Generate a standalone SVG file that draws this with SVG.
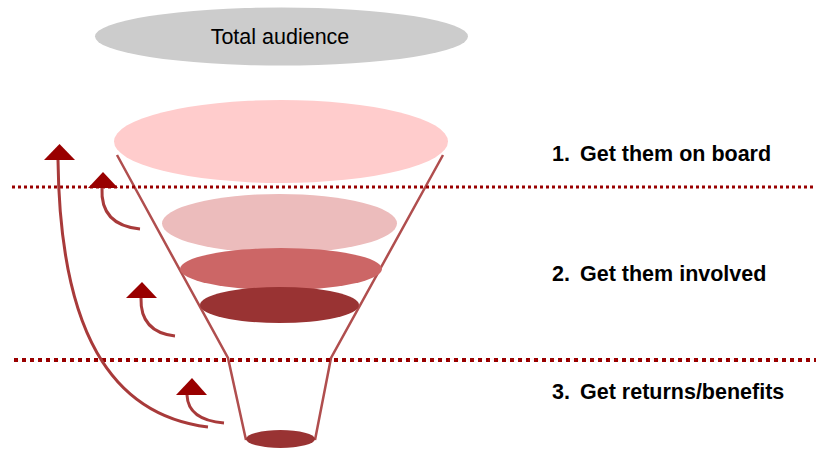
<svg xmlns="http://www.w3.org/2000/svg" width="816" height="449" viewBox="0 0 816 449">
<style>
.lbl{font-family:"Liberation Sans",Arial,sans-serif;font-size:21.5px;font-weight:bold;fill:#000}
.funnel{fill:none;stroke:#b04e4e;stroke-width:2.5}
.curve{fill:none;stroke:#a83a3a;stroke-width:3;stroke-linecap:butt}
.head{fill:#990000}
</style>
<rect width="816" height="449" fill="#fff"/>
<g id="total-audience">
<ellipse cx="281.5" cy="36.5" rx="186.5" ry="29" fill="#cccccc"/>
<text x="280" y="44" text-anchor="middle" font-family="Liberation Sans, Arial, sans-serif" font-size="21.5" fill="#000">Total audience</text>
</g>
<g id="funnel-sides">
<polyline class="funnel" points="117,155 228,358 246,440"/>
<polyline class="funnel" points="443,155 331,358 315,440"/>
</g>
<g id="layer1"><ellipse cx="281" cy="141.5" rx="167" ry="41.5" fill="#ffcccc"/></g>
<g id="layer2"><ellipse cx="279.5" cy="223.5" rx="117.5" ry="29.5" fill="#ecbcbc"/></g>
<g id="layer3"><ellipse cx="281" cy="269" rx="101" ry="21" fill="#cc6666"/></g>
<g id="layer4"><ellipse cx="279.5" cy="305" rx="79.5" ry="18" fill="#993333"/></g>
<g id="bottom"><ellipse cx="280.5" cy="439" rx="34.5" ry="9" fill="#993333"/></g>
<g id="dividers">
<line x1="12" y1="187" x2="816" y2="187" stroke="#990000" stroke-width="3" stroke-dasharray="3 3"/>
<line x1="14" y1="360" x2="816" y2="360" stroke="#990000" stroke-width="4" stroke-dasharray="4 4"/>
</g>
<g id="connectors">
<path class="curve" d="M58,160 C60,330 110,415 208,427"/>
<polygon class="head" points="59.5,144 44,160 75,160"/>
<path class="curve" d="M102,188 Q100,225 140,229"/>
<polygon class="head" points="103,172 88,188 118,188"/>
<path class="curve" d="M141,298 Q140,332 175,336"/>
<polygon class="head" points="142,282 126,298 157,298"/>
<path class="curve" d="M187,395 Q188,420 224,423"/>
<polygon class="head" points="192,378 176,395 207,395"/>
</g>
<g id="labels">
<text class="lbl" x="552" y="161">1. <tspan x="580">Get them on board</tspan></text>
<text class="lbl" x="552" y="281">2. <tspan x="580">Get them involved</tspan></text>
<text class="lbl" x="552" y="399">3. <tspan x="580">Get returns/benefits</tspan></text>
</g>
</svg>
